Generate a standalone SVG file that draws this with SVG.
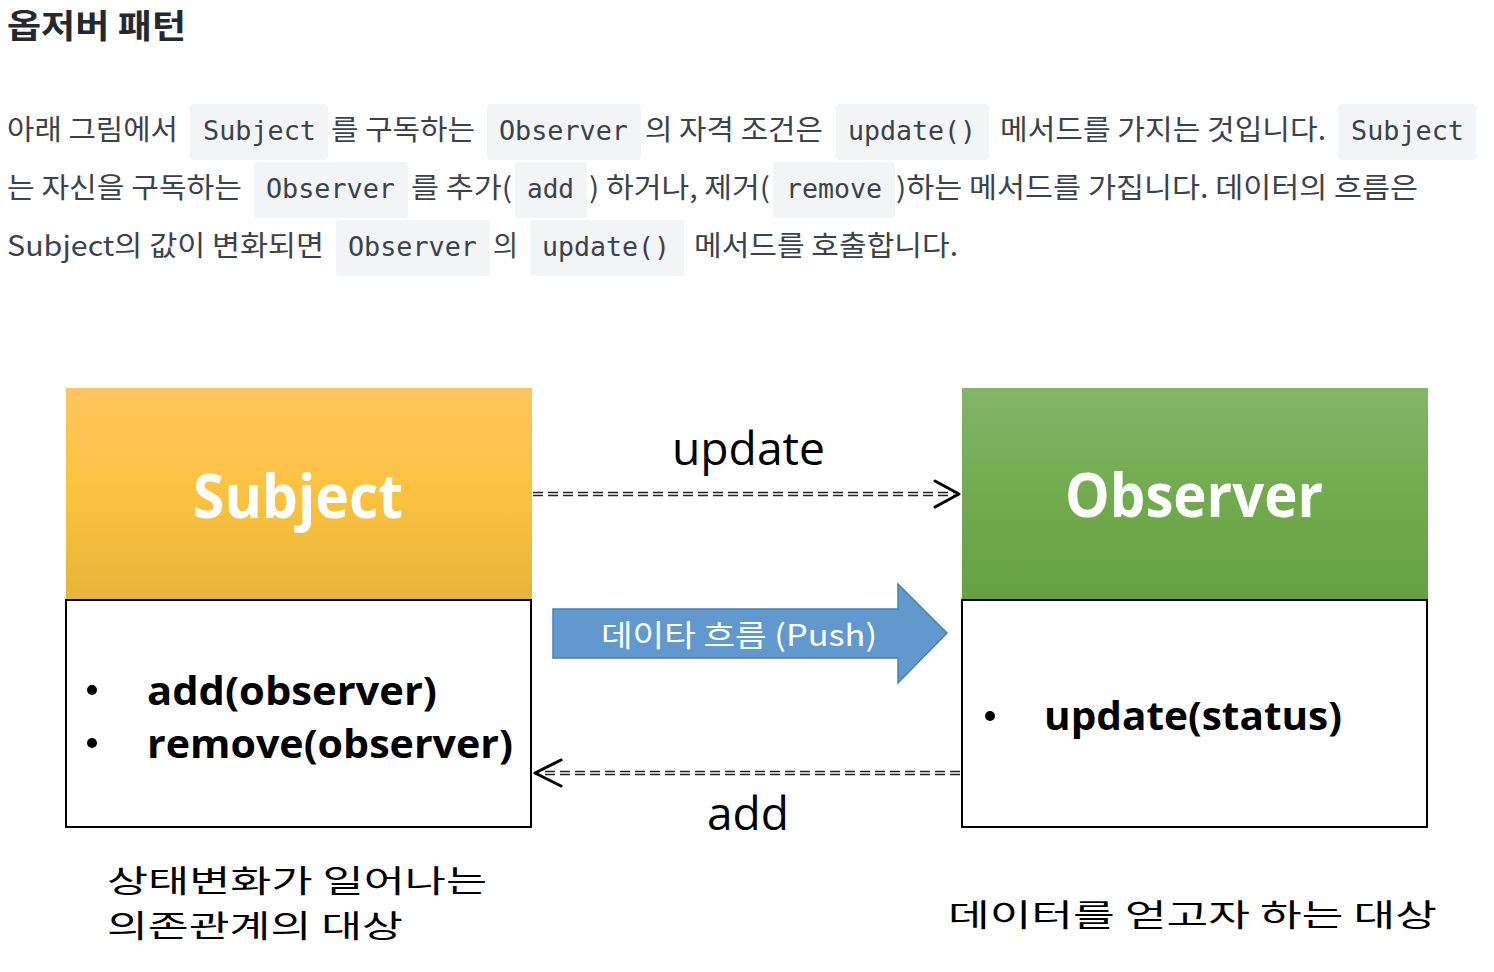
<svg xmlns="http://www.w3.org/2000/svg" width="1494" height="972" viewBox="0 0 1494 972">
<defs>
<linearGradient id="gy" x1="0" y1="0" x2="0" y2="1">
<stop offset="0" stop-color="#fdc55e"/><stop offset="0.5" stop-color="#fbc240"/><stop offset="1" stop-color="#e6b43b"/>
</linearGradient>
<linearGradient id="gg" x1="0" y1="0" x2="0" y2="1">
<stop offset="0" stop-color="#82b668"/><stop offset="0.5" stop-color="#72ab4f"/><stop offset="1" stop-color="#66a140"/>
</linearGradient>
<style>
.t{font-family:"Noto Sans CJK KR","Noto Sans",sans-serif;font-size:28px;fill:#3c424a}
.c{font-family:"DejaVu Sans Mono","Liberation Mono",monospace;font-size:26px;fill:#3c424a}
.cb{fill:#f3f4f6}
.hd{font-family:"Open Sans","Noto Sans CJK KR",sans-serif;font-weight:700;font-size:60px;fill:#fff}
.m{font-family:"Open Sans","Noto Sans CJK KR",sans-serif;font-weight:700;font-size:40px;fill:#000}
.lb{font-family:"Open Sans","Noto Sans CJK KR",sans-serif;font-size:46px;fill:#000}
.cap{font-family:"Noto Sans CJK KR",sans-serif;font-size:31px;fill:#000}
.box{fill:#fff;stroke:#000;stroke-width:2}
.dash{stroke:#222;stroke-width:1.4;stroke-dasharray:10 5;fill:none}
.ah{stroke:#000;stroke-width:3;fill:none;stroke-linecap:round;stroke-linejoin:round}
</style>
</defs>
<rect width="1494" height="972" fill="#fff"/>
<g id="title">
<text x="7" y="38" font-family="Noto Sans CJK KR, sans-serif" font-weight="700" font-size="33" fill="#24292f" textLength="179" lengthAdjust="spacingAndGlyphs">옵저버 패턴</text>
</g>
<g id="paragraph">
<rect class="cb" x="190" y="104" width="138" height="56" rx="4"/>
<rect class="cb" x="487" y="104" width="154" height="56" rx="4"/>
<rect class="cb" x="836" y="104" width="153" height="56" rx="4"/>
<rect class="cb" x="1338" y="104" width="138" height="56" rx="4"/>
<rect class="cb" x="254" y="162" width="154" height="56" rx="4"/>
<rect class="cb" x="515" y="162" width="72" height="56" rx="4"/>
<rect class="cb" x="773" y="162" width="122" height="56" rx="4"/>
<rect class="cb" x="336" y="220" width="154" height="56" rx="4"/>
<rect class="cb" x="530" y="220" width="154" height="56" rx="4"/>
<text class="t" x="7" y="140" textLength="171" lengthAdjust="spacingAndGlyphs">아래 그림에서</text>
<text class="c" x="203" y="140" textLength="113" lengthAdjust="spacingAndGlyphs">Subject</text>
<text class="t" x="331" y="140" textLength="144" lengthAdjust="spacingAndGlyphs">를 구독하는</text>
<text class="c" x="499" y="140" textLength="129" lengthAdjust="spacingAndGlyphs">Observer</text>
<text class="t" x="645" y="140" textLength="178" lengthAdjust="spacingAndGlyphs">의 자격 조건은</text>
<text class="c" x="848" y="140" textLength="128" lengthAdjust="spacingAndGlyphs">update()</text>
<text class="t" x="1000" y="140" textLength="326" lengthAdjust="spacingAndGlyphs">메서드를 가지는 것입니다.</text>
<text class="c" x="1351" y="140" textLength="113" lengthAdjust="spacingAndGlyphs">Subject</text>
<text class="t" x="7" y="198" textLength="235" lengthAdjust="spacingAndGlyphs">는 자신을 구독하는</text>
<text class="c" x="266" y="198" textLength="129" lengthAdjust="spacingAndGlyphs">Observer</text>
<text class="t" x="411" y="198" textLength="101" lengthAdjust="spacingAndGlyphs">를 추가(</text>
<text class="c" x="527" y="198" textLength="47" lengthAdjust="spacingAndGlyphs">add</text>
<text class="t" x="589" y="198" textLength="181" lengthAdjust="spacingAndGlyphs">) 하거나, 제거(</text>
<text class="c" x="786" y="198" textLength="96" lengthAdjust="spacingAndGlyphs">remove</text>
<text class="t" x="896" y="198" textLength="522" lengthAdjust="spacingAndGlyphs">)하는 메서드를 가집니다. 데이터의 흐름은</text>
<text class="t" x="7" y="256" textLength="317" lengthAdjust="spacingAndGlyphs">Subject의 값이 변화되면</text>
<text class="c" x="348" y="256" textLength="129" lengthAdjust="spacingAndGlyphs">Observer</text>
<text class="t" x="493" y="256" textLength="25" lengthAdjust="spacingAndGlyphs">의</text>
<text class="c" x="542" y="256" textLength="128" lengthAdjust="spacingAndGlyphs">update()</text>
<text class="t" x="694" y="256" textLength="264" lengthAdjust="spacingAndGlyphs">메서드를 호출합니다.</text>
</g>
<g id="subject">
<rect x="66" y="388" width="466" height="212" fill="url(#gy)"/>
<text class="hd" x="193" y="518" textLength="210" lengthAdjust="spacingAndGlyphs">Subject</text>
<rect class="box" x="66" y="600" width="465" height="227"/>
<circle cx="92" cy="690" r="5"/>
<circle cx="92" cy="743" r="5"/>
<text class="m" x="147" y="705" textLength="290" lengthAdjust="spacingAndGlyphs">add(observer)</text>
<text class="m" x="147" y="758" textLength="366" lengthAdjust="spacingAndGlyphs">remove(observer)</text>
</g>
<g id="observer">
<rect x="962" y="388" width="466" height="212" fill="url(#gg)"/>
<text class="hd" x="1065" y="517" textLength="258" lengthAdjust="spacingAndGlyphs">Observer</text>
<rect class="box" x="962" y="600" width="465" height="227"/>
<circle cx="990" cy="716" r="5"/>
<text class="m" x="1044" y="730" textLength="298" lengthAdjust="spacingAndGlyphs">update(status)</text>
</g>
<g id="connectors">
<line class="dash" x1="533" y1="492.5" x2="956" y2="492.5"/>
<line class="dash" x1="533" y1="495.5" x2="956" y2="495.5"/>
<polyline class="ah" points="935,481 959,494 935,507"/>
<text class="lb" x="672" y="465" textLength="153" lengthAdjust="spacingAndGlyphs">update</text>
<line class="dash" x1="960" y1="771.5" x2="537" y2="771.5"/>
<line class="dash" x1="960" y1="774.5" x2="537" y2="774.5"/>
<polyline class="ah" points="561,760 535,773 561,786"/>
<text class="lb" x="707" y="830" textLength="82" lengthAdjust="spacingAndGlyphs">add</text>
<polygon points="553,609 898,609 898,584 947,633 898,683 898,658 553,658" fill="#6199cf" stroke="#4a7fb3" stroke-width="1.5"/>
<text x="601" y="646" font-family="Noto Sans CJK KR, sans-serif" font-size="30" fill="#fff" textLength="276" lengthAdjust="spacingAndGlyphs">데이타 흐름 (Push)</text>
</g>
<g id="captions">
<text class="cap" x="107" y="892" textLength="380" lengthAdjust="spacingAndGlyphs">상태변화가 일어나는</text>
<text class="cap" x="107" y="937" textLength="296" lengthAdjust="spacingAndGlyphs">의존관계의 대상</text>
<text class="cap" x="948" y="926" font-size="34" textLength="489" lengthAdjust="spacingAndGlyphs">데이터를 얻고자 하는 대상</text>
</g>
</svg>
